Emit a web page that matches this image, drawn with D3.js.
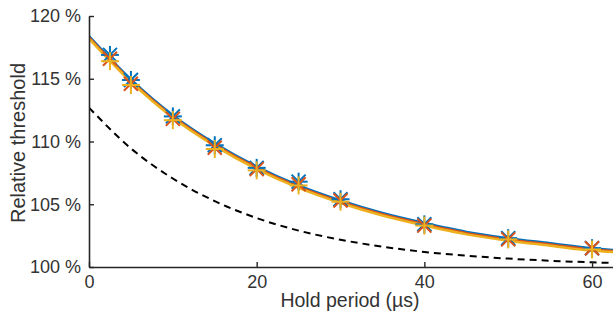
<!DOCTYPE html>
<html><head><meta charset="utf-8">
<script src="https://cdn.jsdelivr.net/npm/d3@7"></script>
<style>body{margin:0;background:#fff}svg{display:block}</style>
</head><body>
<script>
// Data
const xTicks = [0, 20, 40, 60];
const yTicks = [100, 105, 110, 115, 120];
const holdPts = [2.5, 5, 10, 15, 20, 25, 30, 40, 50, 60];
const blueVals = [116.9, 114.9, 112.0, 109.7, 107.9, 106.8, 105.4, 103.4, 102.3, 101.5];
const redVals = [116.6, 114.6, 111.8, 109.5, 107.8, 106.6, 105.3, 103.3, 102.2, 101.5];
const yellowVals = [116.4, 114.5, 111.7, 109.4, 107.7, 106.5, 105.2, 103.3, 102.2, 101.4];
const fitT = [0, 5, 10, 15, 20, 25, 30, 35, 40, 45, 50, 55, 60, 62.5];
const blueFit = [118.4, 114.95, 112.1, 109.85, 108.0, 106.5, 105.3, 104.3, 103.5, 102.8, 102.3, 101.9, 101.5, 101.36];
const redFit = [118.3, 114.85, 112.0, 109.75, 107.9, 106.4, 105.2, 104.2, 103.4, 102.7, 102.2, 101.8, 101.4, 101.28];
const yellowFit = [118.2, 114.75, 111.9, 109.65, 107.8, 106.3, 105.1, 104.1, 103.3, 102.6, 102.1, 101.7, 101.3, 101.2];
const dashFit = [112.7, 109.45, 107.05, 105.25, 103.9, 102.9, 102.17, 101.62, 101.2, 100.9, 100.67, 100.5, 100.37, 100.32];

const W = 613, H = 320;
const svg = d3.select("body").append("svg").attr("width", W).attr("height", H);
const x = d3.scaleLinear().domain([0, 62.5]).range([89, 613]);
const y = d3.scaleLinear().domain([100, 120]).range([267, 16]);
const txt = "#262626";
const font = "'Liberation Sans', Arial, sans-serif";

svg.append("clipPath").attr("id", "c").append("rect")
  .attr("x", 89).attr("y", 0).attr("width", W - 89).attr("height", 268);

const g = svg.append("g").attr("clip-path", "url(#c)");
const line = d3.line().x((d, i) => x(fitT[i])).y(d => y(d)).curve(d3.curveMonotoneX);

g.append("path").datum(dashFit).attr("d", line).attr("fill", "none")
  .attr("stroke", "#000").attr("stroke-width", 2).attr("stroke-dasharray", "7,5");

const cols = {blue: "#0072BD", red: "#D95319", yellow: "#EDB120"};
g.append("path").datum(blueFit).attr("d", line).attr("fill", "none").attr("stroke", cols.blue).attr("stroke-width", 2.5);
g.append("path").datum(redFit).attr("d", line).attr("fill", "none").attr("stroke", cols.red).attr("stroke-width", 2.5);
g.append("path").datum(yellowFit).attr("d", line).attr("fill", "none").attr("stroke", cols.yellow).attr("stroke-width", 2.5);

const r = 9, rd = 7;
function plus(sel, col) {
  sel.append("line").attr("x1", -r).attr("x2", r).attr("y1", 0).attr("y2", 0).attr("stroke", col).attr("stroke-width", 2);
  sel.append("line").attr("x1", 0).attr("x2", 0).attr("y1", -r).attr("y2", r).attr("stroke", col).attr("stroke-width", 2);
}
function cross(sel, col) {
  sel.append("line").attr("x1", -rd).attr("x2", rd).attr("y1", -rd).attr("y2", rd).attr("stroke", col).attr("stroke-width", 2);
  sel.append("line").attr("x1", -rd).attr("x2", rd).attr("y1", rd).attr("y2", -rd).attr("stroke", col).attr("stroke-width", 2);
}
function markers(vals, col, kind) {
  const m = g.selectAll(null).data(vals).enter().append("g")
    .attr("transform", (d, i) => `translate(${x(holdPts[i])},${y(d)})`);
  m.each(function () {
    const s = d3.select(this);
    if (kind === "star") { plus(s, col); cross(s, col); }
    else if (kind === "x") cross(s, col);
    else plus(s, col);
  });
}
markers(blueVals, cols.blue, "star");
markers(redVals, cols.red, "x");
markers(yellowVals, cols.yellow, "plus");

// Axes
const xAxis = svg.append("g").attr("transform", "translate(0,267)")
  .call(d3.axisBottom(x).tickValues(xTicks).tickSizeInner(-5).tickSizeOuter(0).tickPadding(8));
const yAxis = svg.append("g").attr("transform", "translate(89,0)")
  .call(d3.axisLeft(y).tickValues(yTicks).tickSizeInner(-5).tickSizeOuter(0).tickPadding(8).tickFormat(d => d + " %"));
[xAxis, yAxis].forEach(a => {
  a.select(".domain").attr("stroke", txt).attr("stroke-width", 1.6);
  a.selectAll(".tick line").attr("stroke", txt).attr("stroke-width", 1.4);
  a.selectAll("text").attr("fill", "#333").style("font-family", font).style("font-size", "18px");
});
xAxis.selectAll("text").attr("dy", "0.71em");

svg.append("text").attr("x", 350).attr("y", 307).attr("text-anchor", "middle")
  .style("font-family", font).style("font-size", "19.5px").attr("fill", "#333").text("Hold period (µs)");
svg.append("text").attr("transform", "translate(25,143) rotate(-90)").attr("text-anchor", "middle")
  .style("font-family", font).style("font-size", "20px").attr("fill", "#333").text("Relative threshold");
</script>
</body></html>
